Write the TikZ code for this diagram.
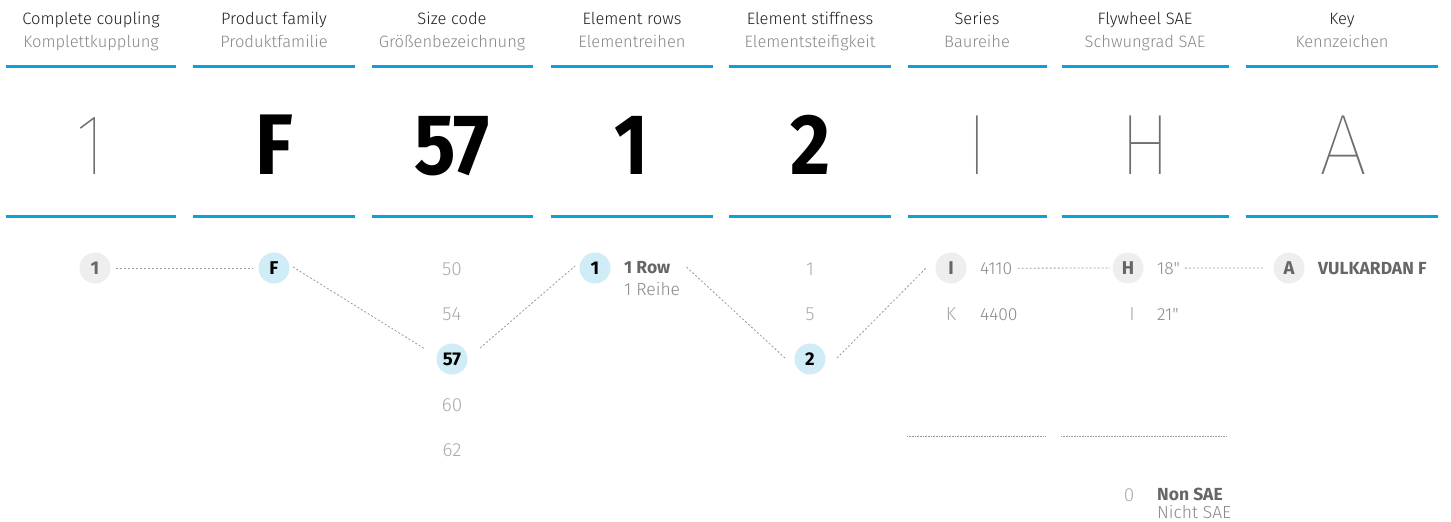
\documentclass[tikz,border=0pt]{standalone}
\usepackage{fontspec}
\usepackage{graphicx}
\setmainfont{Fira Sans}
\newfontfamily\thinfont{Fira Sans Thin}
\newfontfamily\lightfont{Fira Sans Light}
\usetikzlibrary{calc}
\definecolor{vblue}{HTML}{0AA3D9}
\definecolor{cblue}{HTML}{D0ECF6}
\definecolor{cgray}{HTML}{EEEEEE}
\definecolor{tdark}{HTML}{1E1E1E}
\definecolor{tgray}{HTML}{888888}
\definecolor{tlight}{HTML}{AAAAAA}
\definecolor{tmid}{HTML}{666666}
\definecolor{bigthin}{HTML}{6E6E6E}
\definecolor{dotc}{HTML}{999999}
\begin{document}
\begin{tikzpicture}[x=1pt,y=-1pt,
  head/.style={font=\lightfont\fontsize{16.5}{18}\selectfont, text=tdark, inner sep=0, anchor=base},
  sub/.style={font=\lightfont\fontsize{16.5}{18}\selectfont, text=tgray, inner sep=0, anchor=base},
  bar/.style={draw=vblue, line width=3pt},
  bigb/.style={font=\bfseries\fontsize{86}{90}\selectfont, text=black, anchor=base, inner sep=0},
  bigt/.style={font=\thinfont\fontsize{86}{90}\selectfont, text=bigthin, anchor=base, inner sep=0},
  selc/.style={circle, fill=cblue, minimum size=31pt, inner sep=0, font=\bfseries\fontsize{18.5}{20}\selectfont, text=black},
  optc/.style={circle, fill=cgray, minimum size=31pt, inner sep=0, font=\bfseries\fontsize{18.5}{20}\selectfont, text=tmid},
  opt/.style={font=\lightfont\fontsize{19}{21}\selectfont, text=tlight, inner sep=0},
  lbl/.style={font=\lightfont\fontsize{17.5}{19}\selectfont, text=tgray, anchor=base west, inner sep=0},
  lblb/.style={font=\bfseries\fontsize{17.5}{19}\selectfont, text=tmid, anchor=base west, inner sep=0},
  conn/.style={draw=dotc, dash pattern=on 2pt off 2pt, line width=0.8pt},
  sep/.style={draw=dotc, dash pattern=on 0.8pt off 0.8pt, line width=0.6pt}]
\useasboundingbox (0,0) rectangle (1451,522);
% headers
\foreach \c/\e/\g [count=\i] in {91/Complete coupling/Komplettkupplung,274/Product family/Produktfamilie,452/Size code/Größenbezeichnung,632/Element rows/Elementreihen,810/Element stiffness/Elementsteifigkeit,977/Series/Baureihe,1145/Flywheel SAE/Schwungrad SAE,1342/Key/Kennzeichen}{
  \node[head] (h\i) at (\c,24.5) {\e};
  \node[sub] (g\i) at (\c,47.5) {\g};
}
% bars
\foreach \a/\b in {6/176,193/355,372/533,551/713,729/891,908/1047,1062/1229,1246/1438}{
  \draw[bar] (\a,66) -- (\b,66);
  \draw[bar] (\a,216) -- (\b,216);
}
% big letters
\node[bigt] (b1) at (91,174) {\scalebox{0.85}[1]{1}};
\node[bigb] (b2) at (274,174) {\scalebox{0.9}[1]{F}};
\node[bigb] (b3) at (452,174) {\scalebox{0.9}[1]{57}};
\node[bigb] (b4) at (631,174) {\scalebox{0.85}[1]{1}};
\node[bigb] (b5) at (810,174) {\scalebox{0.9}[1]{2}};
\node[bigt] (b6) at (977,174) {\scalebox{0.85}[1]{I}};
\node[bigt] (b7) at (1145,174) {\scalebox{0.88}[1]{H}};
\node[bigt] (b8) at (1343,174) {\scalebox{1.0}[1]{A}};
% circles
\node[optc] (c1) at (95,268) {1};
\node[selc] (cF) at (274,268) {F};
\node[selc] (c57) at (452,359) {57};
\node[selc] (c1r) at (595,268) {1};
\node[selc] (c2) at (810,359) {2};
\node[optc] (cI) at (951,268) {I};
\node[optc] (cH) at (1128,268) {H};
\node[optc] (cA) at (1289,268) {A};
% option values
\node[opt] (o50) at (452,269) {50};
\node[opt] (o54) at (452,314) {54};
\node[opt] (o60) at (452,405) {60};
\node[opt] (o62) at (452,450) {62};
\node[opt] (s1) at (810,269) {1};
\node[opt] (s5) at (810,314) {5};
\node[opt] (sK) at (951,314) {K};
\node[opt] (fI) at (1132,314) {I};
\node[opt] (f0) at (1129,495) {0};
% labels
\node[lblb] (row) at (624,273) {1 Row};
\node[lbl] (reihe) at (624,295) {1 Reihe};
\node[lbl] (l4110) at (980,274) {4110};
\node[lbl] (l4400) at (980,320) {4400};
\node[lbl] (l18) at (1157,274) {18"};
\node[lbl] (l21) at (1157,320) {21"};
\node[lblb] (vul) at (1318,274) {VULKARDAN F};
\node[lblb] (non) at (1157,500) {Non SAE};
\node[lbl] (nicht) at (1157,518) {Nicht SAE};
% connectors
\draw[conn] ($(c1)+(21,0)$) -- ($(cF)+(-21,0)$);
\draw[conn] ($(cF)+(19,-1)$) -- ($(c57)+(-27,-10)$);
\draw[conn] ($(c57)+(28,-11)$) -- ($(c1r)+(-20,-2)$);
\draw[conn] ($(row.east)+(16,0)$) -- ($(c2)+(-25,-1)$);
\draw[conn] ($(c2)+(27,-1)$) -- ($(cI)+(-24,-1)$);
\draw[conn] ($(l4110.east)+(5,0)$) -- ($(cH)+(-18,0)$);
\draw[conn] ($(l18.east)+(5,0)$) -- ($(cA)+(-25,0)$);
% separators
\draw[sep] (907,436) -- (1045,436);
\draw[sep] (1061,436) -- (1227,436);
\end{tikzpicture}
\end{document}
